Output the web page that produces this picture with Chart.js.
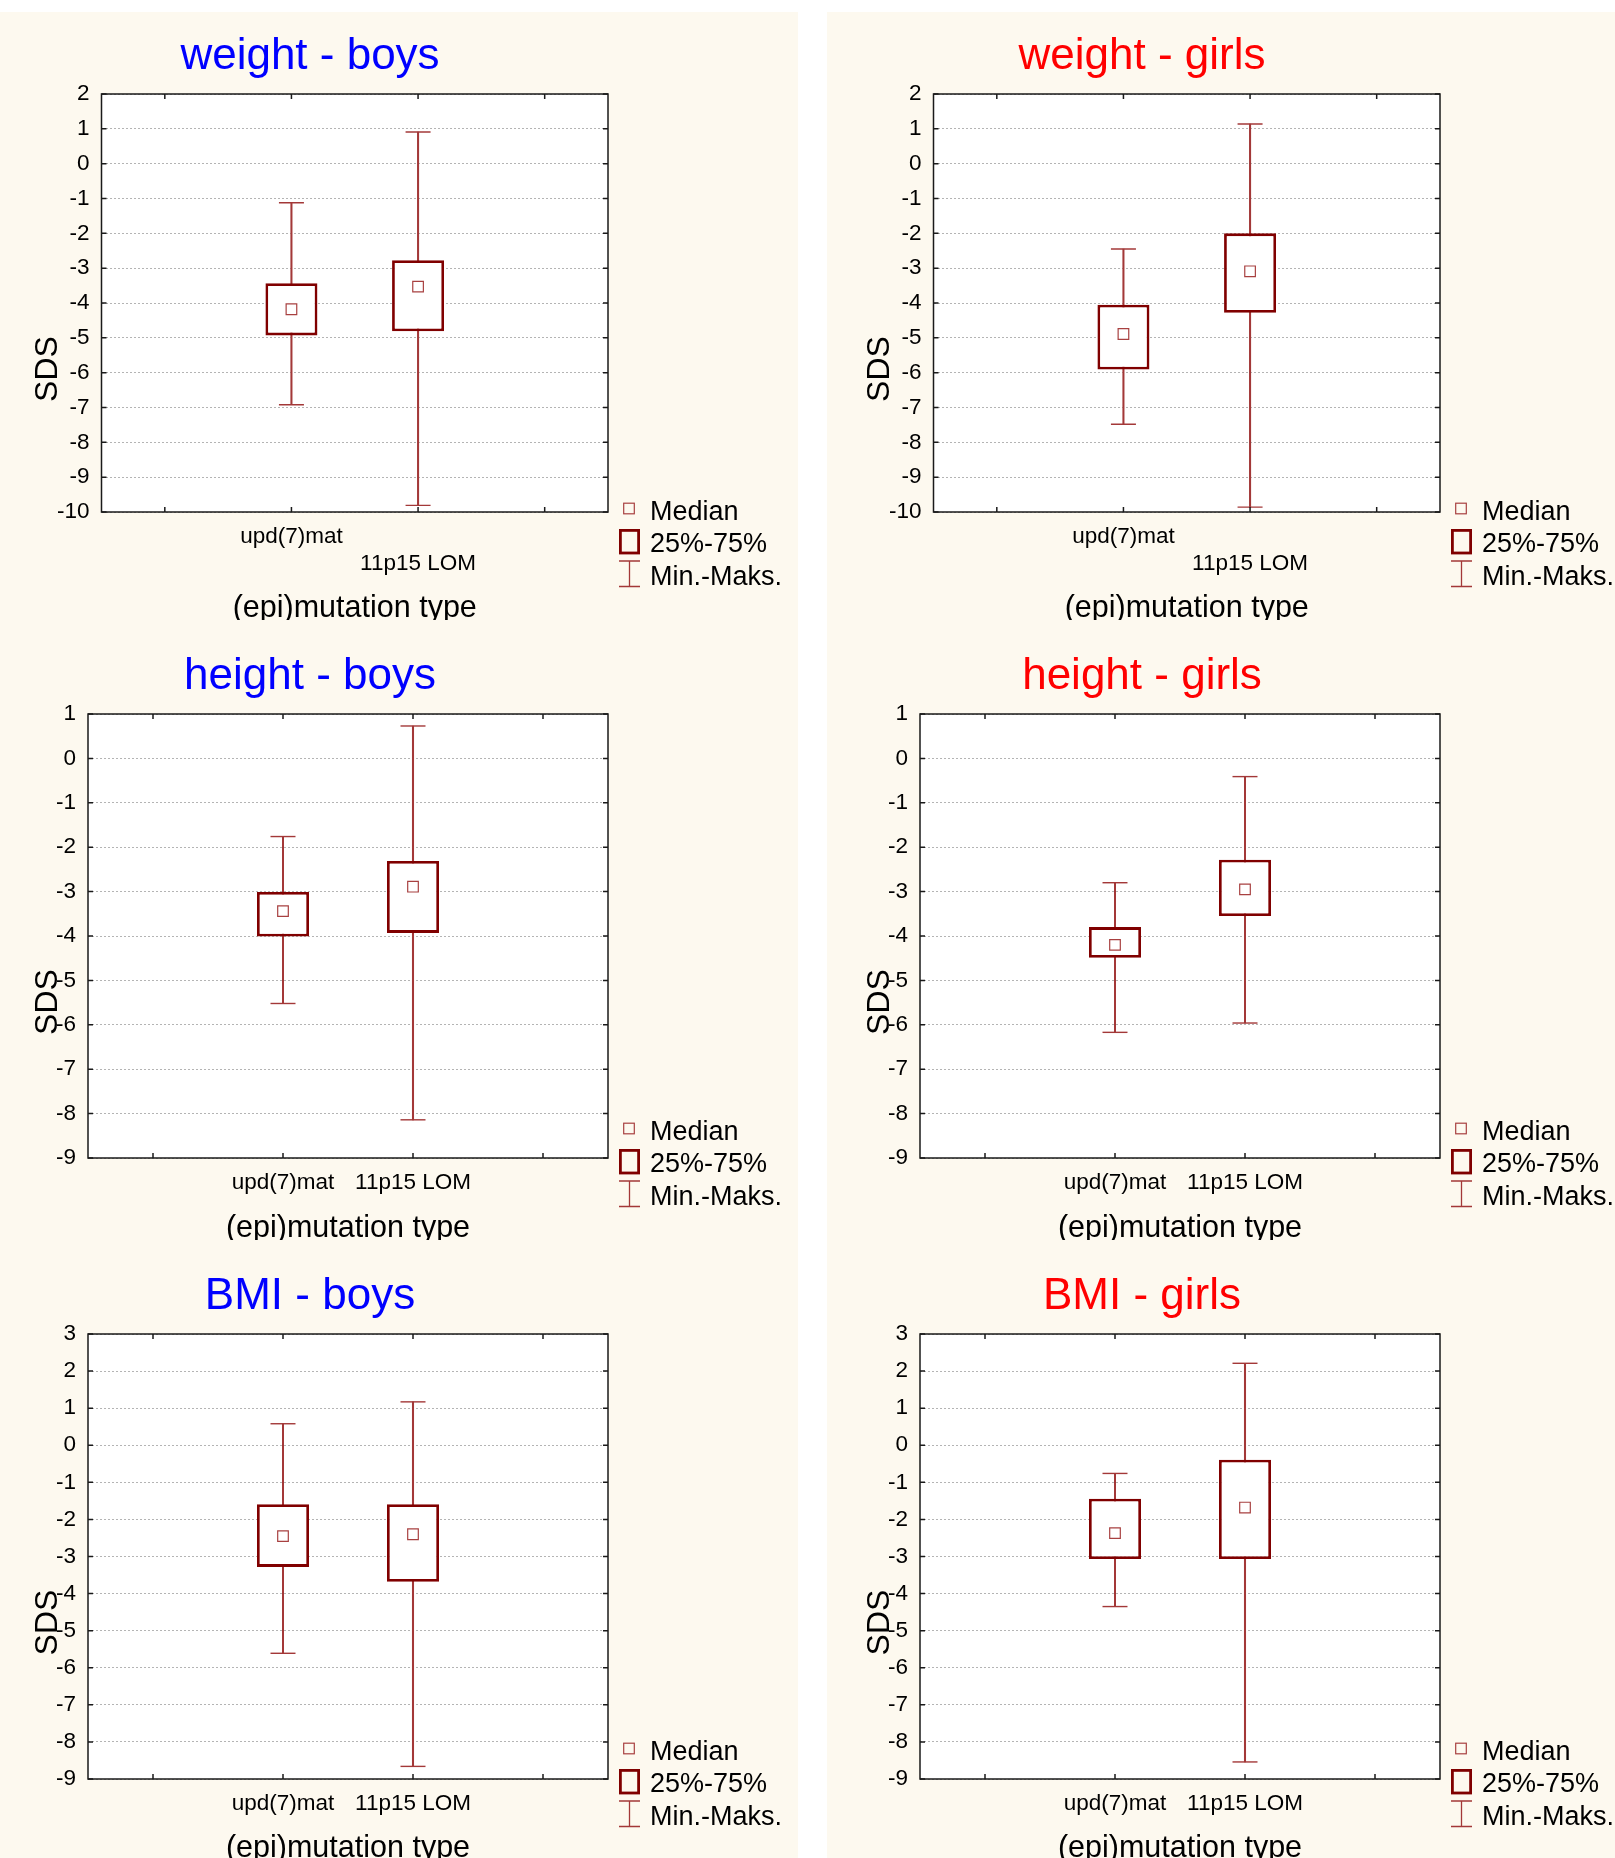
<!DOCTYPE html>
<html>
<head>
<meta charset="utf-8">
<script src="https://cdn.jsdelivr.net/npm/chart.js@4.4.1/dist/chart.umd.min.js"></script>
<style>
html, body { margin: 0; padding: 0; background: #ffffff; overflow: hidden; width: 1615px; height: 1858px; }
.bg { position: absolute; background: #fdf9ef; }
canvas { position: absolute; display: block; }
</style>
</head>
<body>
<div class="bg" style="left:0;top:12px;width:798px;height:1846px"></div>
<div class="bg" style="left:827px;top:12px;width:788px;height:1846px"></div>
<canvas id="c0" width="798" height="620" style="left:0;top:0"></canvas>
<canvas id="c1" width="783" height="620" style="left:832px;top:0"></canvas>
<canvas id="c2" width="798" height="620" style="left:0;top:620px"></canvas>
<canvas id="c3" width="783" height="620" style="left:832px;top:620px"></canvas>
<canvas id="c4" width="798" height="620" style="left:0;top:1240px"></canvas>
<canvas id="c5" width="783" height="620" style="left:832px;top:1240px"></canvas>
<script>
// ---------------- data ----------------
const categories = ['upd(7)mat', '11p15 LOM'];

// weight - boys
const weightBoysMin    = [-6.92, -9.81];
const weightBoysQ1     = [-4.93, -4.81];
const weightBoysMedian = [-4.18, -3.53];
const weightBoysQ3     = [-3.43, -2.77];
const weightBoysMax    = [-1.12, 0.91];
// weight - girls
const weightGirlsMin    = [-7.48, -9.86];
const weightGirlsQ1     = [-5.91, -4.28];
const weightGirlsMedian = [-4.89, -3.09];
const weightGirlsQ3     = [-4.05, -2.00];
const weightGirlsMax    = [-2.45, 1.14];
// height - boys
const heightBoysMin    = [-5.52, -8.14];
const heightBoysQ1     = [-4.01, -3.93];
const heightBoysMedian = [-3.44, -2.89];
const heightBoysQ3     = [-3.01, -2.31];
const heightBoysMax    = [-1.76, 0.73];
// height - girls
const heightGirlsMin    = [-6.17, -5.96];
const heightGirlsQ1     = [-4.49, -3.55];
const heightGirlsMedian = [-4.20, -2.95];
const heightGirlsQ3     = [-3.80, -2.28];
const heightGirlsMax    = [-2.80, -0.41];
// BMI - boys
const bmiBoysMin    = [-5.61, -8.66];
const bmiBoysQ1     = [-3.28, -3.68];
const bmiBoysMedian = [-2.45, -2.40];
const bmiBoysQ3     = [-1.59, -1.59];
const bmiBoysMax    = [0.58, 1.17];
// BMI - girls
const bmiGirlsMin    = [-4.35, -8.54];
const bmiGirlsQ1     = [-3.07, -3.07];
const bmiGirlsMedian = [-2.37, -1.68];
const bmiGirlsQ3     = [-1.44, -0.39];
const bmiGirlsMax    = [-0.76, 2.21];

// y axis ranges (min, max), ticks every 1
const weightAxis = [-10, 2];
const heightAxis = [-9, 1];
const bmiAxis    = [-9, 3];

const panelTitles  = ['weight - boys', 'weight - girls', 'height - boys', 'height - girls', 'BMI - boys', 'BMI - girls'];
const legendLabels = ['Median', '25%-75%', 'Min.-Maks.'];
const xAxisTitle   = '(epi)mutation type';
const yAxisTitle   = 'SDS';

// ---------------- styles ----------------
const FONT = '"Liberation Sans", Arial, Helvetica, sans-serif';
const BOX = '#800000';
const WHISK = '#a33838';
const MED = '#a84040';

const pad = arr => [null, ...arr, null];

const decor = {
  id: 'decor',
  beforeDraw(chart) {
    const a = chart.chartArea, c = chart.ctx;
    c.save();
    c.fillStyle = '#ffffff';
    c.fillRect(a.left, a.top, a.right - a.left, a.bottom - a.top);
    c.restore();
  },
  afterDraw(chart, args, o) {
    const c = chart.ctx, a = chart.chartArea, xs = chart.scales.x, ys = chart.scales.y;
    c.save();
    // frame
    c.strokeStyle = '#1a1a1a';
    c.lineWidth = 1.5;
    c.strokeRect(a.left, a.top, a.right - a.left, a.bottom - a.top);
    // inward tick marks
    c.beginPath();
    ys.ticks.forEach(t => {
      const py = ys.getPixelForValue(t.value);
      c.moveTo(a.left, py); c.lineTo(a.left + 5, py);
      c.moveTo(a.right, py); c.lineTo(a.right - 5, py);
    });
    xs.ticks.forEach((t, i) => {
      const px = xs.getPixelForTick(i);
      c.moveTo(px, a.bottom); c.lineTo(px, a.bottom - 5);
      c.moveTo(px, a.top); c.lineTo(px, a.top + 5);
    });
    c.stroke();
    // title
    c.font = '44px ' + FONT;
    c.fillStyle = o.titleColor;
    c.textAlign = 'center';
    c.textBaseline = 'alphabetic';
    c.fillText(o.title, 310, 69);
    // x axis title
    c.font = '30.5px ' + FONT;
    c.fillStyle = '#000';
    c.fillText(xAxisTitle, (a.left + a.right) / 2, 617);
    // y axis title
    c.save();
    c.translate(48, (a.top + a.bottom) / 2 + 66);
    c.rotate(-Math.PI / 2);
    c.font = '32px ' + FONT;
    c.textBaseline = 'middle';
    c.textAlign = 'center';
    c.fillText(yAxisTitle, 0, 0);
    c.restore();
    // legend
    c.lineWidth = 1.2;
    c.strokeStyle = MED;
    c.strokeRect(623.7, 503.2, 10.6, 10.6);
    c.lineWidth = 2.8;
    c.strokeStyle = BOX;
    c.strokeRect(620.4, 530.4, 18.2, 22.6);
    c.lineWidth = 1.3;
    c.strokeStyle = WHISK;
    c.beginPath();
    c.moveTo(629.5, 561); c.lineTo(629.5, 586.5);
    c.moveTo(619, 561); c.lineTo(640, 561);
    c.moveTo(619, 586.5); c.lineTo(640, 586.5);
    c.stroke();
    c.font = '27px ' + FONT;
    c.fillStyle = '#000';
    c.textAlign = 'left';
    c.textBaseline = 'alphabetic';
    c.fillText(legendLabels[0], 650, 519.5);
    c.fillText(legendLabels[1], 650, 552);
    c.fillText(legendLabels[2], 650, 584.5);
    c.restore();
  }
};

const panels = [
  {id: 'c0', title: panelTitles[0], color: '#0000ff', axis: weightAxis, s: [weightBoysMin, weightBoysQ1, weightBoysMedian, weightBoysQ3, weightBoysMax], stagger: true,  left: 101.5, bottom: 512, width: 798},
  {id: 'c1', title: panelTitles[1], color: '#ff0000', axis: weightAxis, s: [weightGirlsMin, weightGirlsQ1, weightGirlsMedian, weightGirlsQ3, weightGirlsMax], stagger: true,  left: 101.5, bottom: 512, width: 783},
  {id: 'c2', title: panelTitles[2], color: '#0000ff', axis: heightAxis, s: [heightBoysMin, heightBoysQ1, heightBoysMedian, heightBoysQ3, heightBoysMax], stagger: false, left: 88, bottom: 538, width: 798},
  {id: 'c3', title: panelTitles[3], color: '#ff0000', axis: heightAxis, s: [heightGirlsMin, heightGirlsQ1, heightGirlsMedian, heightGirlsQ3, heightGirlsMax], stagger: false, left: 88, bottom: 538, width: 783},
  {id: 'c4', title: panelTitles[4], color: '#0000ff', axis: bmiAxis, s: [bmiBoysMin, bmiBoysQ1, bmiBoysMedian, bmiBoysQ3, bmiBoysMax], stagger: false, left: 88, bottom: 539, width: 798},
  {id: 'c5', title: panelTitles[5], color: '#ff0000', axis: bmiAxis, s: [bmiGirlsMin, bmiGirlsQ1, bmiGirlsMedian, bmiGirlsQ3, bmiGirlsMax], stagger: false, left: 88, bottom: 539, width: 783}
];

panels.forEach(p => {
  const [mn, q1, med, q3, mx] = p.s;
  const labels = p.stagger
    ? ['', categories[0], ['', categories[1]], '']
    : ['', categories[0], categories[1], ''];
  new Chart(document.getElementById(p.id), {
    type: 'bar',
    data: {
      labels: labels,
      datasets: [
        {type: 'bar', label: legendLabels[2], data: pad(mn.map((v, i) => [v, mx[i]])), backgroundColor: WHISK, barThickness: 1.4, grouped: false, order: 4},
        {type: 'bar', label: legendLabels[1], data: pad(q1.map((v, i) => [v, q3[i]])), backgroundColor: '#ffffff', borderColor: BOX, borderWidth: 2.8, borderSkipped: false, barThickness: 52, grouped: false, order: 3, inflateAmount: 0},
        {type: 'line', label: 'max', data: pad(mx), showLine: false, pointStyle: 'line', pointRadius: 12.5, pointBorderWidth: 1.4, pointBorderColor: WHISK, borderColor: WHISK, order: 2},
        {type: 'line', label: 'min', data: pad(mn), showLine: false, pointStyle: 'line', pointRadius: 12.5, pointBorderWidth: 1.4, pointBorderColor: WHISK, borderColor: WHISK, order: 2},
        {type: 'line', label: legendLabels[0], data: pad(med), showLine: false, pointStyle: 'rect', pointRadius: 7.5, pointBackgroundColor: '#ffffff', pointBorderColor: MED, pointBorderWidth: 1.2, order: 0}
      ]
    },
    options: {
      responsive: false,
      animation: false,
      events: [],
      layout: {padding: {left: 0, right: p.width - 608, top: 94, bottom: 0}},
      plugins: {
        legend: {display: false},
        tooltip: {enabled: false},
        decor: {title: p.title, titleColor: p.color}
      },
      scales: {
        x: {
          type: 'category',
          offset: true,
          grid: {display: false, drawTicks: false},
          border: {display: false},
          ticks: {autoSkip: false, maxRotation: 0, minRotation: 0, padding: 11, color: '#000', font: {family: FONT, size: 22.5}},
          afterFit(s) { s.height = 620 - p.bottom; }
        },
        y: {
          type: 'linear',
          min: p.axis[0],
          max: p.axis[1],
          grid: {color: '#b4b4b4', lineWidth: 1, drawTicks: false},
          border: {display: false, dash: [2, 2]},
          ticks: {stepSize: 1, padding: 12, color: '#000', font: {family: FONT, size: 22.5}},
          afterFit(s) { s.width = p.left; }
        }
      }
    },
    plugins: [decor]
  });
});
</script>
</body>
</html>
